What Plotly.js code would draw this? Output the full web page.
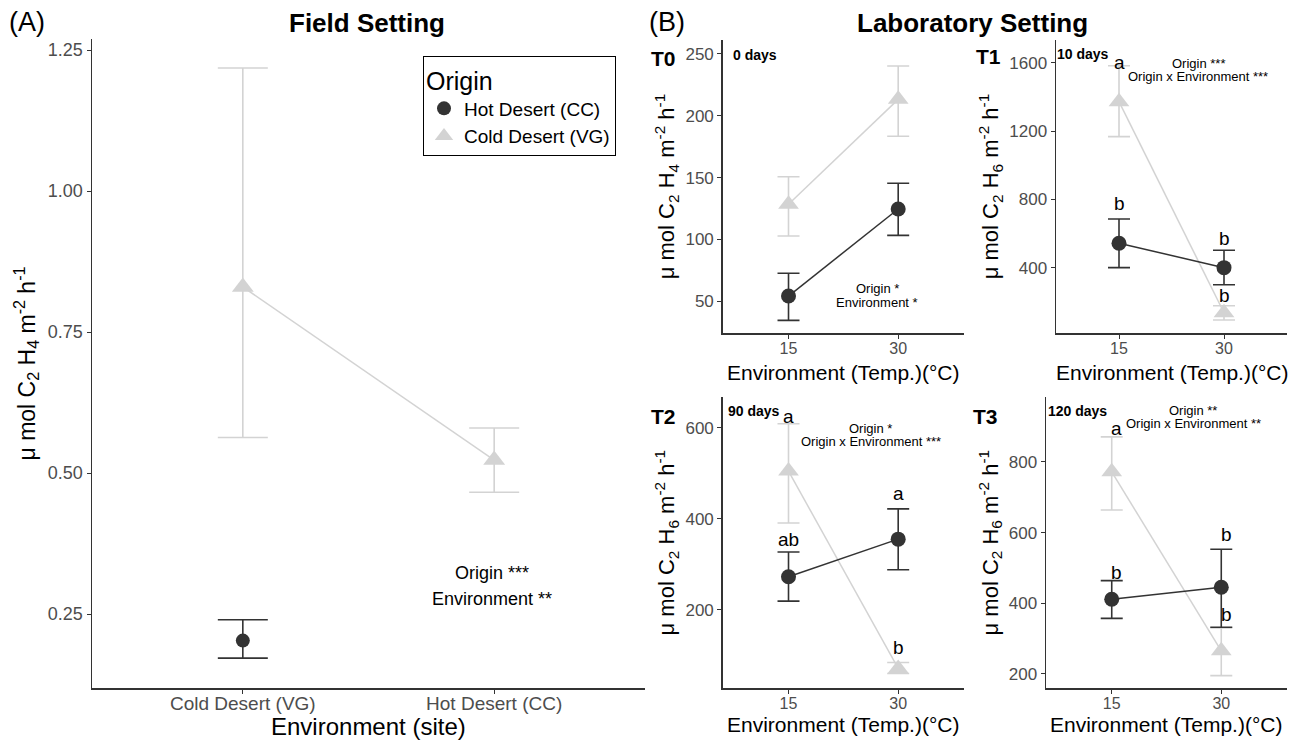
<!DOCTYPE html>
<html>
<head>
<meta charset="utf-8">
<script src="https://cdn.plot.ly/plotly-3.0.1.min.js"></script>
<style>html,body{margin:0;padding:0;background:#fff;}#chart{width:1306px;height:742px;}</style>
</head>
<body>
<div id="chart"></div>
<script>
// ---------- DATA ----------
const siteCategories = ['Cold Desert (VG)', 'Hot Desert (CC)'];
const fieldHotX = ['Cold Desert (VG)'];
const fieldHotMean = [0.203];
const fieldHotUpper = [0.240];
const fieldHotLower = [0.172];
const fieldColdX = ['Cold Desert (VG)', 'Hot Desert (CC)'];
const fieldColdMean = [0.830, 0.523];
const fieldColdUpper = [1.218, 0.580];
const fieldColdLower = [0.563, 0.466];

const tempCategories = ['15', '30'];
// T0 (0 days)
const t0HotMean = [54.2, 124.6], t0HotUpper = [72.6, 145.4], t0HotLower = [34.5, 103.3];
const t0ColdMean = [128.4, 213.3], t0ColdUpper = [150.7, 240.3], t0ColdLower = [102.8, 183.4];
// T1 (10 days)
const t1HotMean = [543, 400], t1HotUpper = [685, 502], t1HotLower = [400, 300];
const t1ColdMean = [1372, 136], t1ColdUpper = [1582, 177], t1ColdLower = [1167, 94];
const t1HotLetters = ['b', 'b'], t1ColdLetters = ['a', 'b'];
const t1HotLetterY = [773, 568], t1ColdLetterY = [1604, 240];
// T2 (90 days)
const t2HotMean = [272.5, 355.4], t2HotUpper = [327, 422], t2HotLower = [219, 288];
const t2ColdMean = [505, 71], t2ColdUpper = [609, 84], t2ColdLower = [391, 60];
const t2HotLetters = ['ab', 'a'], t2ColdLetters = ['a', 'b'];
const t2HotLetterY = [355, 456], t2ColdLetterY = [626, 117];
// T3 (120 days)
const t3HotMean = [411, 445], t3HotUpper = [464, 553], t3HotLower = [357, 332];
const t3ColdMean = [772, 265], t3ColdUpper = [871, 330], t3ColdLower = [664, 195];
const t3HotLetters = ['b', 'b'], t3ColdLetters = ['a', 'b'];
const t3HotLetterY = [486, 595], t3ColdLetterY = [895, 369];

// ---------- HELPERS ----------
const W = 1306, H = 742;
const px = v => v / W;
const py = v => (H - v) / H;
const HOT = '#333333', COLD = '#D3D3D3';
const FONT = 'Liberation Sans, Arial, sans-serif';

function errs(mean, up, lo) {
  return {
    up: up.map((u, i) => u - mean[i]),
    lo: mean.map((m, i) => m - lo[i])
  };
}

const traces = [];
function addSeries(xa, ya, xs, mean, up, lo, color, symbol, size, name, showLeg, capw) {
  const e = errs(mean, up, lo);
  if (xs.length > 1) {
    traces.push({x: xs, y: mean, xaxis: xa, yaxis: ya, type: 'scatter', mode: 'lines',
      line: {color: color, width: 1.5}, showlegend: false, hoverinfo: 'skip'});
  }
  traces.push({x: xs, y: mean, xaxis: xa, yaxis: ya, type: 'scatter', mode: 'markers', name: name,
    showlegend: showLeg, legendgroup: name,
    marker: {color: color, symbol: symbol, size: size},
    error_y: {type: 'data', symmetric: false, array: e.up, arrayminus: e.lo, color: color, thickness: 1.6, width: capw}});
}

// Panel A
addSeries('x', 'y', fieldColdX, fieldColdMean, fieldColdUpper, fieldColdLower, COLD, 'triangle-up', 19, 'Cold Desert (VG)', true, 25);
addSeries('x', 'y', fieldHotX, fieldHotMean, fieldHotUpper, fieldHotLower, HOT, 'circle', 14, 'Hot Desert (CC)', true, 25);
// Lab panels
const lab = [
  ['x2', 'y2', t0HotMean, t0HotUpper, t0HotLower, t0ColdMean, t0ColdUpper, t0ColdLower],
  ['x3', 'y3', t1HotMean, t1HotUpper, t1HotLower, t1ColdMean, t1ColdUpper, t1ColdLower],
  ['x4', 'y4', t2HotMean, t2HotUpper, t2HotLower, t2ColdMean, t2ColdUpper, t2ColdLower],
  ['x5', 'y5', t3HotMean, t3HotUpper, t3HotLower, t3ColdMean, t3ColdUpper, t3ColdLower]
];
lab.forEach(p => {
  addSeries(p[0], p[1], tempCategories, p[5], p[6], p[7], COLD, 'triangle-up', 18, 'Cold Desert (VG)', false, 11);
  addSeries(p[0], p[1], tempCategories, p[2], p[3], p[4], HOT, 'circle', 15, 'Hot Desert (CC)', false, 11);
});

// ---------- AXES ----------
function xAxis(domain, cats, tickSize, anchor, standoff) {
  return {domain: domain, anchor: anchor, type: 'category', categoryorder: 'array', categoryarray: cats,
    range: [-0.6, 1.6], showline: true, linecolor: '#333333', linewidth: 1.5, ticks: 'outside', ticklen: 4,
    ticklabelstandoff: standoff,
    tickcolor: '#333333', tickfont: {family: FONT, size: tickSize, color: '#4D4D4D'}, showgrid: false, zeroline: false};
}
function yAxis(domain, range, dtick, tickfmt, title, tickSize, titleSize, anchor, standoff) {
  return {domain: domain, anchor: anchor, range: range, dtick: dtick, tick0: 0, tickformat: tickfmt,
    showline: true, linecolor: '#333333', linewidth: 1.5, ticks: 'outside', ticklen: 4,
    tickcolor: '#333333', tickfont: {family: FONT, size: tickSize, color: '#4D4D4D'}, showgrid: false, zeroline: false,
    title: {text: title, font: {family: FONT, size: titleSize, color: '#000'}, standoff: standoff}};
}
const yTitleH4 = 'μ mol C<sub>2</sub> H<sub>4</sub> m<sup>-2</sup> h<sup>-1</sup>';
const yTitleH6 = 'μ mol C<sub>2</sub> H<sub>6</sub> m<sup>-2</sup> h<sup>-1</sup>';
const xTitleT = 'Environment (Temp.)(°C)';

const topDom = [py(333), py(40)];
const botDom = [py(688.3), py(397)];

const layout = {
  width: W, height: H, margin: {l: 0, r: 0, t: 0, b: 0},
  paper_bgcolor: '#fff', plot_bgcolor: '#fff',
  font: {family: FONT},
  xaxis: xAxis([px(92), px(645)], siteCategories, 19, 'y', -6),
  yaxis: yAxis([py(688), py(39)], [0.119, 1.2695], 0.25, '.2f', yTitleH4, 18, 23, 'x', 6),
  xaxis2: xAxis([px(722.7), px(964)], tempCategories, 16, 'y2', -4),
  yaxis2: yAxis(topDom, [24.3, 261.3], 50, '', yTitleH4, 17, 22, 'x2', 4),
  xaxis3: xAxis([px(1056), px(1287)], tempCategories, 16, 'y3', -4),
  yaxis3: yAxis(topDom, [17.5, 1733], 400, '', yTitleH6, 17, 22, 'x3', 4),
  xaxis4: xAxis([px(722.7), px(964)], tempCategories, 16, 'y4', -4),
  yaxis4: yAxis(botDom, [27.3, 668], 200, '', yTitleH6, 17, 22, 'x4', 4),
  xaxis5: xAxis([px(1046), px(1287)], tempCategories, 16, 'y5', -4),
  yaxis5: yAxis(botDom, [159, 984], 200, '', yTitleH6, 17, 22, 'x5', 4),
  legend: {x: px(423), y: py(56), xanchor: 'left', yanchor: 'top', bgcolor: '#fff', bordercolor: '#000', borderwidth: 1,
    traceorder: 'reversed', itemwidth: 30, tracegroupgap: 0,
    title: {text: 'Origin', font: {family: FONT, size: 25, color: '#000'}},
    font: {family: FONT, size: 19, color: '#000'}, itemsizing: 'trace'},
  annotations: []
};

const ann = layout.annotations;
function paperText(x, y, text, size, bold, xanchor) {
  ann.push({xref: 'paper', yref: 'paper', x: px(x), y: py(y), text: bold ? '<b>' + text + '</b>' : text,
    showarrow: false, xanchor: xanchor || 'center', yanchor: 'middle', font: {family: FONT, size: size, color: '#000'}});
}
paperText(7, 22, '(A)', 27, false, 'left');
paperText(367, 23, 'Field Setting', 26, true);
paperText(647, 22, '(B)', 27, false, 'left');
paperText(972, 23, 'Laboratory Setting', 26, true);
// x axis titles
paperText(368, 726, 'Environment (site)', 24, false);
paperText(843, 372, xTitleT, 21, false);
paperText(1172, 372, xTitleT, 21, false);
paperText(843, 724, xTitleT, 21, false);
paperText(1166, 724, xTitleT, 21, false);
// panel tags
paperText(663, 58, 'T0', 21, true);
paperText(988, 57, 'T1', 21, true);
paperText(663, 416, 'T2', 21, true);
paperText(985, 416, 'T3', 21, true);
paperText(731, 55, '0 days', 14, true, 'left');
paperText(1055, 54, '10 days', 14, true, 'left');
paperText(726, 411, '90 days', 14, true, 'left');
paperText(1046, 411, '120 days', 14, true, 'left');
// statistics text
paperText(492, 573, 'Origin ***', 18, false);
paperText(492, 599, 'Environment **', 18, false);
paperText(877, 289, 'Origin *', 13, false);
paperText(877, 302, 'Environment *', 13, false);
paperText(1198, 64, 'Origin ***', 13, false);
paperText(1198, 77, 'Origin x Environment ***', 13, false);
paperText(871, 428, 'Origin *', 13, false);
paperText(871, 441, 'Origin x Environment ***', 13, false);
paperText(1193, 410, 'Origin **', 13, false);
paperText(1193, 423, 'Origin x Environment **', 13, false);

// significance letters (x given as category index)
function letters(xa, ya, lets, ys, shift) {
  lets.forEach((l, i) => {
    ann.push({xref: xa, yref: ya, x: i, y: ys[i], text: l, showarrow: false,
      xanchor: 'center', yanchor: 'middle', xshift: shift || 0,
      font: {family: FONT, size: 19, color: '#000'}});
  });
}
letters('x3', 'y3', t1HotLetters, t1HotLetterY);
letters('x3', 'y3', t1ColdLetters, t1ColdLetterY);
letters('x4', 'y4', t2HotLetters, t2HotLetterY);
letters('x4', 'y4', t2ColdLetters, t2ColdLetterY);
letters('x5', 'y5', t3HotLetters, t3HotLetterY, 5);
letters('x5', 'y5', t3ColdLetters, t3ColdLetterY, 5);

Plotly.newPlot('chart', traces, layout, {displayModeBar: false, staticPlot: true});
</script>
</body>
</html>
